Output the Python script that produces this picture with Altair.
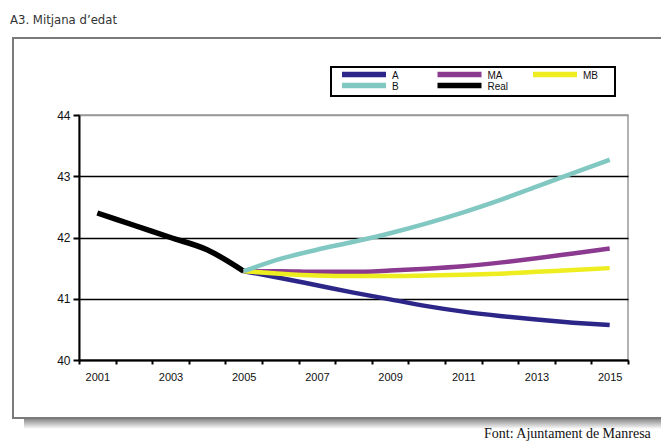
import altair as alt
import pandas as pd

years = [str(y) for y in range(2001, 2016)]
real_years = years[:5]
real_vals = [42.40, 42.20, 42.00, 41.80, 41.45]
proj_years = years[4:]
a_vals = [41.45, 41.34, 41.22, 41.10, 40.99, 40.88, 40.79, 40.72, 40.66, 40.61, 40.57]
ma_vals = [41.45, 41.45, 41.44, 41.44, 41.46, 41.49, 41.53, 41.59, 41.66, 41.74, 41.82]
mb_vals = [41.45, 41.41, 41.38, 41.37, 41.37, 41.38, 41.39, 41.41, 41.44, 41.47, 41.50]
b_vals = [41.45, 41.65, 41.80, 41.93, 42.07, 42.23, 42.41, 42.61, 42.83, 43.05, 43.27]

series_order = ["A", "MA", "MB", "B", "Real"]
series_colors = ["#2d2689", "#8b3a8f", "#eded1f", "#80c8c1", "#000000"]

rows = []
for name, ys, vs in [("Real", real_years, real_vals), ("A", proj_years, a_vals),
                     ("MA", proj_years, ma_vals), ("MB", proj_years, mb_vals),
                     ("B", proj_years, b_vals)]:
    for y, v in zip(ys, vs):
        rows.append({"year": y, "value": v, "series": name})
df = pd.DataFrame(rows)

color_scale = alt.Scale(domain=series_order, range=series_colors)

lines = alt.Chart(df).mark_line(interpolate="monotone").encode(
    x=alt.X("year:O",
            scale=alt.Scale(type="band", domain=years, paddingInner=0, paddingOuter=0),
            axis=alt.Axis(title=None, labelAngle=0, tickBand="extent", grid=False,
                          labelExpr="toNumber(datum.value) % 2 == 1 ? datum.label : ''",
                          domainColor="black", domainWidth=2, tickColor="black",
                          tickWidth=2, tickSize=4, labelPadding=7,
                          labelFont="Liberation Sans", labelFontSize=11,
                          labelColor="#111")),
    y=alt.Y("value:Q",
            scale=alt.Scale(domain=[40, 44], nice=False, zero=False),
            axis=alt.Axis(title=None, values=[40, 41, 42, 43, 44], grid=True,
                          gridColor={"condition": {"test": "datum.value == 44", "value": "#999999"},
                                     "value": "black"},
                          gridWidth=1.5,
                          domainColor="black", domainWidth=2, tickColor="black",
                          tickWidth=2, tickSize=6, labelPadding=3,
                          labelFont="Liberation Sans", labelFontSize=12,
                          labelColor="#111")),
    color=alt.Color("series:N", scale=color_scale, legend=None),
    strokeWidth=alt.condition(alt.datum.series == "Real", alt.value(5.5), alt.value(4.5)),
    detail="series:N",
)

# hand-built legend (row-major, 3 columns) drawn through the same colour scale
leg_df = pd.DataFrame({"series": series_order})
leg_base = alt.Chart(leg_df).transform_calculate(
    idx="indexof(['A','MA','MB','B','Real'], datum.series)"
).transform_calculate(
    col="datum.idx % 3", row="floor(datum.idx / 3)"
).transform_calculate(
    sx="263 + datum.col * 95.5", sx2="307 + datum.col * 95.5",
    lx="313 + datum.col * 95.5", sy="-40.5 + datum.row * 11"
)
leg_box = alt.Chart(pd.DataFrame({"a": [0]})).mark_rect(
    fill="white", stroke="black", strokeWidth=2).encode(
    x=alt.value(252), x2=alt.value(536), y=alt.value(-48), y2=alt.value(-19))
leg_sw = leg_base.mark_rule(strokeWidth=5.5).encode(
    x=alt.X("sx:Q", scale=None), x2="sx2:Q", y=alt.Y("sy:Q", scale=None),
    color=alt.Color("series:N", scale=color_scale, legend=None))
leg_tx = leg_base.mark_text(align="left", baseline="alphabetic", dy=4.5,
                            font="Liberation Sans", fontSize=10, color="#111").encode(
    x=alt.X("lx:Q", scale=None), y=alt.Y("sy:Q", scale=None), text="series:N")

one = pd.DataFrame({"a": [0]})
frame = alt.Chart(one).mark_rect(fill=None, stroke="#7a7a7a", strokeWidth=2).encode(
    x=alt.value(-66), x2=alt.value(620), y=alt.value(-77), y2=alt.value(303))
shadow = alt.Chart(one).mark_rect(
    fill={"gradient": "linear", "x1": 0, "y1": 0, "x2": 0, "y2": 1,
          "stops": [{"offset": 0, "color": "#8a8a8a"}, {"offset": 1, "color": "#ffffff"}]}
).encode(x=alt.value(-55), x2=alt.value(620), y=alt.value(304), y2=alt.value(314))
title = alt.Chart(one).mark_text(text="A3. Mitjana d\u2019edat", align="left", baseline="alphabetic",
                                 font="DejaVu Sans Condensed, Liberation Sans", fontSize=13,
                                 color="#333333").encode(
    x=alt.value(-69), y=alt.value(-91))
source = alt.Chart(one).mark_text(text="Font: Ajuntament de Manresa", align="left",
                                  baseline="alphabetic", font="Liberation Serif", fontSize=14,
                                  color="#111111").encode(
    x=alt.value(405), y=alt.value(323))

chart = alt.layer(shadow, frame, lines, leg_box, leg_sw, leg_tx, title, source).properties(
    width=549, height=245, autosize="none",
    padding={"left": 79, "top": 115, "right": 33, "bottom": 81},
    background="white",
).configure_view(stroke="#999999", strokeWidth=1.5)

chart.save("out.html", embed_options={"renderer": "svg", "actions": False})
